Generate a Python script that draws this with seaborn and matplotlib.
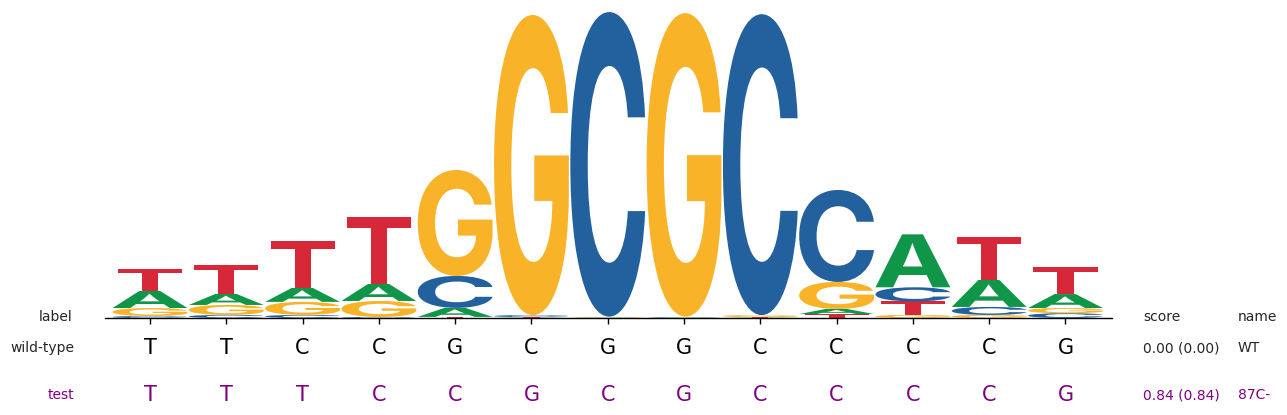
import numpy as np
import matplotlib
matplotlib.use("Agg")
import matplotlib.pyplot as plt
import seaborn as sns
from matplotlib.textpath import TextPath
from matplotlib.patches import PathPatch
from matplotlib.font_manager import FontProperties
from matplotlib.transforms import Affine2D, blended_transform_factory

# letter heights (bits) per position
A = [0.111, 0.072, 0.091, 0.111, 0.059, 0.003, 0.003, 0.003, 0.003, 0.033, 0.345, 0.176, 0.091]
C = [0.013, 0.020, 0.020, 0.007, 0.208, 0.013, 1.984, 0.003, 1.960, 0.599, 0.092, 0.052, 0.031]
G = [0.052, 0.065, 0.085, 0.104, 0.690, 1.955, 0.003, 1.977, 0.013, 0.176, 0.020, 0.020, 0.034]
T = [0.143, 0.189, 0.306, 0.436, 0.007, 0.003, 0.003, 0.003, 0.003, 0.026, 0.088, 0.280, 0.176]

wild_type = list("TTCCGCGGCCCCG")
test_seq = list("TTTCCGCGCCCCG")
row_labels = ["label", "wild-type", "test"]
score_header = "score"
name_header = "name"
scores = ["0.00 (0.00)", "0.84 (0.84)"]
names = ["WT", "87C-"]

colors = {"A": "#109648", "C": "#23609E", "G": "#F8B328", "T": "#D62839"}
# narrow glyphs are not stretched to the full column width
width_frac = {"A": 0.98, "C": 0.98, "G": 0.98, "T": 0.84}
purple = "#800080"

sns.set_style("white")
plt.rcParams["font.family"] = ["DejaVu Sans"]

W, H = 1287, 415
fig = plt.figure(figsize=(W / 100, H / 100), dpi=100)
ax = fig.add_axes([105 / W, (H - 318) / H, (1112 - 105) / W, 307 / H])

fp = FontProperties(family="Inter", weight="bold")


def draw_letter(ch, x, y0, h):
    w = width_frac[ch]
    tp = TextPath((0, 0), ch, size=1, prop=fp)
    bb = tp.get_extents()
    tr = (Affine2D().translate(-bb.x0, -bb.y0)
          .scale(w / bb.width, h / bb.height)
          .translate(x - w / 2, y0))
    ax.add_patch(PathPatch(tr.transform_path(tp), fc=colors[ch], ec="none", lw=0))


heights = {"A": A, "C": C, "G": G, "T": T}
n = len(wild_type)
for i in range(n):
    col = sorted(heights, key=lambda b: heights[b][i])
    y = 0.0
    for b in col:
        h = heights[b][i]
        draw_letter(b, i, y, h)
        y += h

ax.set_xlim(-0.59, n - 1 + 0.61)
ax.set_ylim(0, 2.0)
ax.set_xticks(range(n))
ax.set_xticklabels([])
ax.set_yticks([])
ax.tick_params(axis="x", length=4, width=1, color="black", bottom=True)
sns.despine(ax=ax, left=True)
ax.spines["bottom"].set_color("black")
ax.spines["bottom"].set_linewidth(1)

# sequence rows under the logo
trans = blended_transform_factory(ax.transData, fig.transFigure)
y_wt = 1 - 348 / H
y_test = 1 - 395 / H
y_lab = 1 - 317 / H
for i in range(n):
    ax.text(i, y_wt, wild_type[i], transform=trans, ha="center", va="center",
            fontsize=15, color="black")
    ax.text(i, y_test, test_seq[i], transform=trans, ha="center", va="center",
            fontsize=15, color=purple)

fig.text(73 / W, y_lab, row_labels[0], ha="right", va="center", fontsize=10)
fig.text(74 / W, y_wt, row_labels[1], ha="right", va="center", fontsize=10)
fig.text(74 / W, y_test, row_labels[2], ha="right", va="center", fontsize=10, color=purple)

fig.text(1143 / W, y_lab, score_header, ha="left", va="center", fontsize=10)
fig.text(1238 / W, y_lab, name_header, ha="left", va="center", fontsize=10)
fig.text(1143 / W, y_wt, scores[0], ha="left", va="center", fontsize=10)
fig.text(1238 / W, y_wt, names[0], ha="left", va="center", fontsize=10)
fig.text(1143 / W, y_test, scores[1], ha="left", va="center", fontsize=10, color=purple)
fig.text(1238 / W, y_test, names[1], ha="left", va="center", fontsize=10, color=purple)

fig.savefig("out.png", dpi=100)
